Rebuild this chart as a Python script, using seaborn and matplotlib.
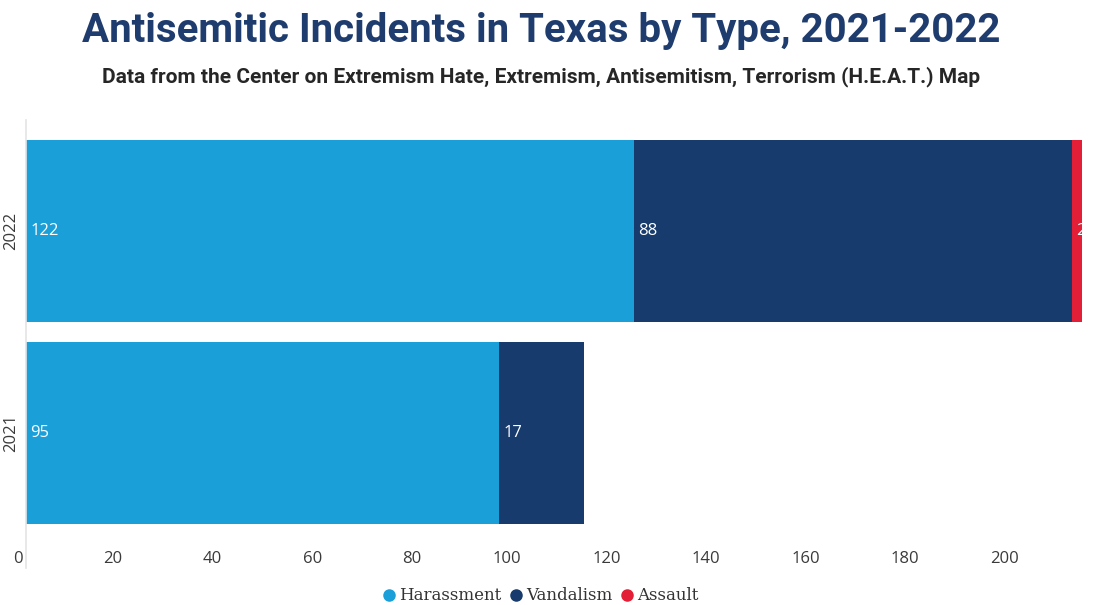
import matplotlib
matplotlib.use("Agg")
import matplotlib.pyplot as plt
import matplotlib.transforms as mtransforms
from matplotlib.lines import Line2D
import numpy as np
import pandas as pd
import seaborn as sns

years = ["2022", "2021"]
types = ["Harassment", "Vandalism", "Assault"]
harassment = [122, 95]
vandalism = [88, 17]
assault = [2, 0]
x_ticks = [0, 20, 40, 60, 80, 100, 120, 140, 160, 180, 200]

colors = {"Harassment": "#1a9fd9", "Vandalism": "#163b6c", "Assault": "#e21f37"}

sns.set_theme(style="white")
plt.rcParams["font.family"] = ["Open Sans", "DejaVu Sans"]

df = pd.DataFrame({"year": years, "Harassment": harassment,
                   "Vandalism": vandalism, "Assault": assault})
cum = df[types].cumsum(axis=1)

fig = plt.figure(figsize=(10.97, 6.05), dpi=100)
W, H = 1097, 605
ax = fig.add_axes([26 / W, 1 - 568 / H, (W - 26) / W, (568 - 120) / H])

# stacked bars: draw cumulative totals from the last segment back to the first
for t in reversed(types):
    sns.barplot(x=cum[t], y=df["year"], order=years, color=colors[t],
                width=0.9, saturation=1, linewidth=0, ax=ax)

# segment labels
for i, yr in enumerate(years):
    left = 0
    for t in types:
        v = df.loc[i, t]
        if v > 0:
            ax.annotate(str(v), (left, i), xytext=(3, 0), textcoords="offset points",
                        ha="left", va="center", color="white", fontsize=12,
                        annotation_clip=False)
        left += v

ax.set_xlim(0, (W - 26) / 4.98)
ax.set_ylim(1 + (568 - 433) / 202, -(231 - 120) / 202)
ax.set_xticks(x_ticks)
ax.set_xlabel("")
ax.set_ylabel("")

for s in ["top", "right", "bottom"]:
    ax.spines[s].set_visible(False)
ax.spines["left"].set_color("#e4e4e4")
ax.spines["left"].set_linewidth(1.2)

ax.tick_params(axis="x", length=0, pad=-12, labelsize=12, labelcolor="#3a3a3a")
ax.tick_params(axis="y", length=0, pad=5, labelsize=12, labelcolor="#3a3a3a")
shift = mtransforms.ScaledTranslation(-3 / 100, 0, fig.dpi_scale_trans)
for lab in ax.get_xticklabels():
    lab.set_ha("right")
    lab.set_transform(lab.get_transform() + shift)
for lab in ax.get_yticklabels():
    lab.set_rotation(90)
    lab.set_va("center")

fig.text(0.493, 1 - 31 / H, "Antisemitic Incidents in Texas by Type, 2021-2022",
         ha="center", va="center", fontsize=29, fontweight="bold", color="#1f3c6e",
         family=["Roboto", "DejaVu Sans"])
fig.text(0.493, 1 - 77 / H,
         "Data from the Center on Extremism Hate, Extremism, Antisemitism, Terrorism (H.E.A.T.) Map",
         ha="center", va="center", fontsize=15, fontweight="bold", color="#262626",
         family=["Roboto", "DejaVu Sans"])

handles = [Line2D([], [], marker="o", linestyle="", markersize=8,
                  markerfacecolor=colors[t], markeredgecolor=colors[t]) for t in types]
fig.legend(handles, types, loc="center", bbox_to_anchor=(0.492, 1 - 596 / H),
           ncol=3, frameon=False, handletextpad=0.1, columnspacing=0.4,
           handlelength=1.0, prop={"family": ["DejaVu Serif"], "size": 12},
           labelcolor="#333333")

fig.savefig("out.png", dpi=100)
